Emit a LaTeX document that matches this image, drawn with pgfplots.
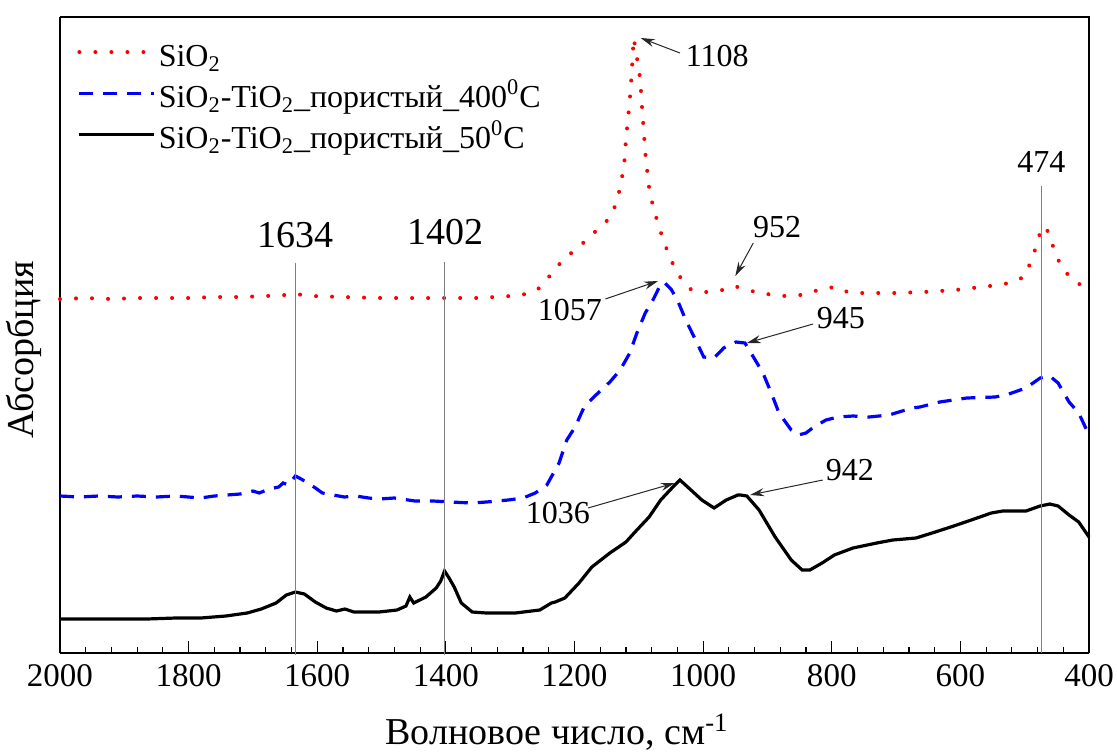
\documentclass[border=0pt]{standalone}
\usepackage{fontspec}
\setmainfont{Liberation Serif}
\newfontfamily\tnr{Liberation Serif}
\usepackage{pgfplots}
\pgfplotsset{compat=1.18}
\usetikzlibrary{arrows.meta}

\begin{document}
\begin{tikzpicture}
\useasboundingbox (-30pt,-49pt) rectangle (528.5pt,326.5pt);
\begin{axis}[
  at={(0pt,0pt)}, anchor=south west,
  scale only axis, width=514.5pt, height=318pt,
  x dir=reverse, xmin=400, xmax=2000, ymin=0, ymax=636,
  xtick={400,600,...,2000}, minor x tick num=4,
  ytick=\empty,
  axis x line*=bottom, axis y line*=left,
  separate axis lines,
  every outer x axis line/.append style={-},
  every outer y axis line/.append style={-},
  axis line style={line width=1pt},
  tick align=inside,
  major tick length=6pt, minor tick length=3pt,
  every tick/.style={black, line width=0.6pt},
  /pgf/number format/assume math mode=true,
  /pgf/number format/set thousands separator={},
  xticklabel={\tnr\pgfmathprintnumber{\tick}},
  xticklabel style={font=\tnr\fontsize{16.5}{19}\selectfont, yshift=-2pt},
  xlabel={Волновое число, см\textsuperscript{-1}},
  ylabel={Абсорбция},
  xlabel style={font=\tnr\fontsize{19}{22}\selectfont, at={(axis description cs:0.483,-0.124)}, anchor=center},
  ylabel style={font=\tnr\fontsize{19}{22}\selectfont, at={(axis description cs:-0.035,0.477)}, anchor=center},
  clip=false,
  legend cell align=left,
  legend image code/.code={\draw[#1] (0pt,3pt) -- (37.5pt,3pt);},
  legend style={at={(axis description cs:0.0165,0.9645)}, anchor=north west, draw=none, fill=none,
    inner sep=0pt, row sep=2.1pt, font=\tnr\fontsize{16}{19}\selectfont,
    nodes={inner sep=1.2pt, text height=12pt, text depth=4pt}},
]
% top and right frame
\addplot[black, line width=1pt, forget plot] coordinates {(2000,636) (400,636) (400,0)};

\addplot[red, line width=2pt, line cap=round, dash pattern=on 0.01pt off 8pt] coordinates {
(2000,354) (1960,355) (1920,354) (1880,355) (1840,355) (1800,355) (1760,356) (1720,356)
(1680,357) (1650,358) (1634,359) (1610,357) (1560,356) (1500,355) (1450,355) (1400,355)
(1350,355) (1300,357) (1275,359) (1260,362) (1250,368) (1240,376) (1218,393) (1190,408)
(1165,423) (1150,432) (1140,441) (1131,460) (1123,486) (1120,513) (1114,553) (1111,580)
(1108,615) (1104,600) (1098,575) (1095,546) (1089,493) (1083,460) (1075,440) (1067,423)
(1058,406) (1045,386) (1033,373) (1020,364) (1005,361) (990,361) (970,363) (953,367)
(940,365) (929,363) (915,360) (901,359) (873,357) (849,358) (835,360) (821,363) (808,365)
(793,366) (780,362) (768,360) (740,360) (702,360) (658,361) (608,363) (554,367) (523,370)
(501,376) (489,393) (479,413) (474,426) (468,425) (462,420) (453,400) (440,383) (419,370)
(400,365)};
\addlegendentry{SiO\textsubscript{2}}

\addplot[blue, line width=1.6pt, dash pattern=on 7pt off 5pt] coordinates {
(2000,157) (1970,156) (1940,157) (1910,156) (1880,157) (1850,156) (1820,157) (1800,156)
(1782,155) (1760,157) (1740,158) (1720,159) (1700,162) (1690,160) (1675,164) (1660,166)
(1653,170) (1645,168) (1634,177) (1625,174) (1615,170) (1605,166) (1592,160) (1575,158)
(1558,156) (1540,157) (1520,155) (1504,154) (1480,155) (1448,152) (1420,152) (1392,151)
(1360,150) (1337,151) (1303,153) (1280,155) (1261,160) (1243,168) (1224,190) (1212,213)
(1199,226) (1185,246) (1170,256) (1145,271) (1129,283) (1114,300) (1103,320) (1090,340)
(1078,353) (1068,366) (1061,371) (1050,364) (1040,353) (1027,333) (1014,316) (999,296)
(983,295) (968,305) (949,311) (935,310) (919,293) (907,280) (894,260) (882,240) (863,223)
(852,218) (840,220) (828,226) (809,233) (790,236) (767,237) (742,236) (711,238) (675,245)
(663,246) (632,251) (590,255) (546,256) (529,258) (498,265) (476,275) (461,277) (448,270)
(431,251) (416,240) (400,218)};
\addlegendentry{SiO\textsubscript{2}-TiO\textsubscript{2}\_пористый\_400\textsuperscript{0}C}

\addplot[black, line width=1.6pt] coordinates {
(2000,34) (1950,34) (1900,34) (1865,34) (1820,35) (1781,35) (1742,37) (1709,40) (1687,44)
(1664,50) (1648,58) (1634,61) (1620,59) (1603,51) (1586,45) (1570,42) (1557,44) (1543,41)
(1504,41) (1476,43) (1462,47) (1456,56) (1450,50) (1431,56) (1415,65) (1408,72) (1402,82)
(1395,75) (1387,66) (1376,50) (1359,41) (1337,40) (1292,40) (1254,43) (1236,50) (1230,51)
(1215,55) (1193,70) (1173,86) (1145,100) (1120,111) (1103,123) (1084,136) (1066,153)
(1047,166) (1036,173) (1024,166) (1002,153) (983,145) (964,153) (946,158) (942,158)
(932,157) (913,143) (888,116) (863,93) (846,83) (834,83) (815,90) (796,98) (767,105)
(730,110) (705,113) (669,115) (644,120) (615,126) (583,133) (552,140) (534,142) (498,142)
(476,147) (461,149) (448,147) (431,138) (416,131) (400,116)};
\addlegendentry{SiO\textsubscript{2}-TiO\textsubscript{2}\_пористый\_50\textsuperscript{0}C}

% reference lines
\addplot[gray, line width=0.6pt, forget plot] coordinates {(1634,-2) (1634,390)};
\addplot[gray, line width=0.6pt, forget plot] coordinates {(1402,-2) (1402,391)};
\addplot[gray, line width=0.6pt, forget plot] coordinates {(474,0) (474,467)};

\node[font=\tnr\fontsize{19}{22}\selectfont] at (axis cs:1634,418) {1634};
\node[font=\tnr\fontsize{19}{22}\selectfont] at (axis cs:1400,421) {1402};
\node[font=\tnr\fontsize{16}{19}\selectfont] at (axis cs:474,491) {474};

\node[font=\tnr\fontsize{16}{19}\selectfont] at (axis cs:978,597) {1108};
\draw[gray!30!black, line width=0.5pt, -{Stealth[length=7pt,width=4pt]}] (axis cs:1036,600) -- (axis cs:1097,615);
\node[font=\tnr\fontsize{16}{19}\selectfont] at (axis cs:885,426) {952};
\draw[gray!30!black, line width=0.5pt, -{Stealth[length=7pt,width=4pt]}] (axis cs:922,410) -- (axis cs:950,377);
\node[font=\tnr\fontsize{16}{19}\selectfont] at (axis cs:1207,343) {1057};
\draw[gray!30!black, line width=0.5pt, -{Stealth[length=7pt,width=4pt]}] (axis cs:1152,354) -- (axis cs:1070,372);
\node[font=\tnr\fontsize{16}{19}\selectfont] at (axis cs:786,335) {945};
\draw[gray!30!black, line width=0.5pt, -{Stealth[length=7pt,width=4pt]}] (axis cs:829,329) -- (axis cs:932,310);
\node[font=\tnr\fontsize{16}{19}\selectfont] at (axis cs:772,183) {942};
\draw[gray!30!black, line width=0.5pt, -{Stealth[length=7pt,width=4pt]}] (axis cs:814,173) -- (axis cs:927,158);
\node[font=\tnr\fontsize{16}{19}\selectfont] at (axis cs:1226,140) {1036};
\draw[gray!30!black, line width=0.5pt, -{Stealth[length=7pt,width=4pt]}] (axis cs:1179,145) -- (axis cs:1044,170);
\end{axis}
\end{tikzpicture}
\end{document}
